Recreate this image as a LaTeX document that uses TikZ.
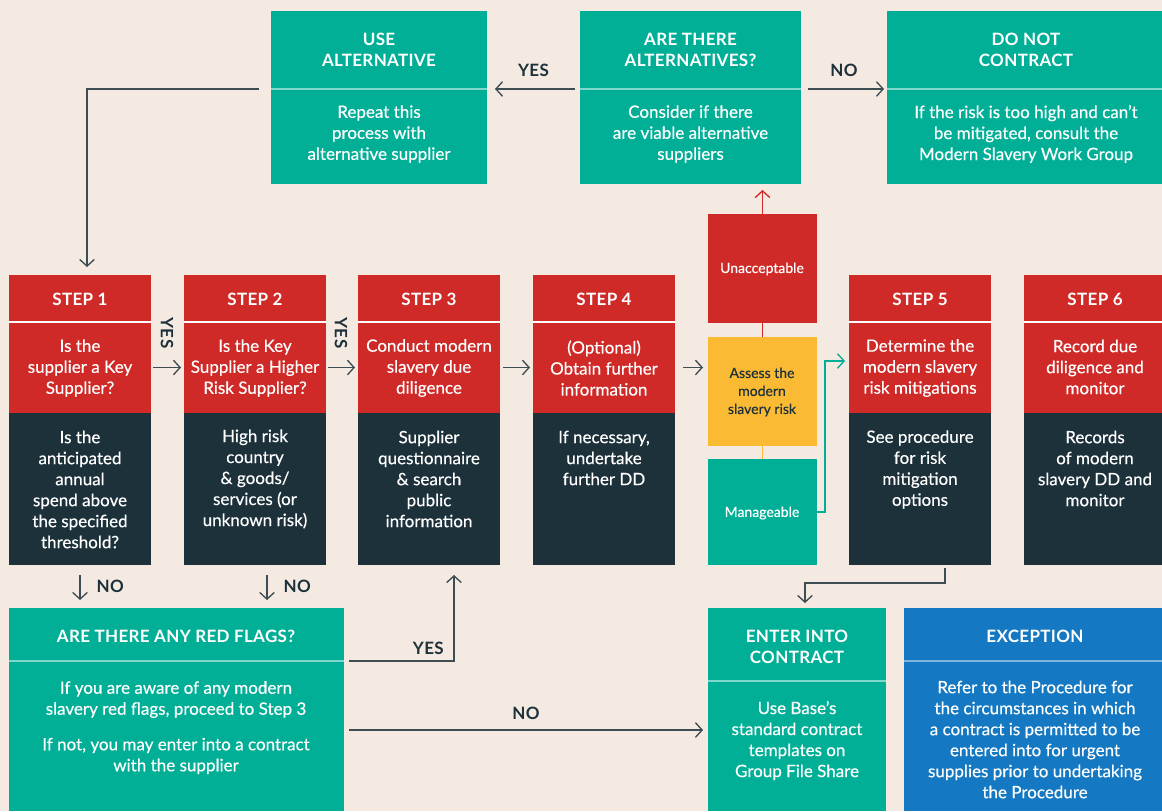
\documentclass[tikz,border=0pt]{standalone}
\usepackage{fontspec}
\setmainfont{Lato}[FakeBold=0.35]
\newfontfamily\hfont{Lato}[LetterSpace=2]
\usetikzlibrary{arrows.meta}
\definecolor{bgc}{HTML}{F4EAE1}
\definecolor{tealc}{HTML}{00AF96}
\definecolor{redc}{HTML}{CF2A27}
\definecolor{darkc}{HTML}{1D313B}
\definecolor{yellc}{HTML}{FBBA33}
\definecolor{bluec}{HTML}{1479C2}
\definecolor{linec}{HTML}{3E4C54}
\newcommand{\mkbox}[6]{\node[fill=#6,minimum width=#4*0.75pt,minimum height=#5*0.75pt,anchor=north west,inner sep=0pt,outer sep=0pt] (#1) at (#2,#3) {};}
\tikzset{
  hd/.style={font=\hfont\bfseries\fontsize{12.75pt}{15.75pt}\selectfont, text=white, align=center, inner sep=0pt},
  bd/.style={font=\fontsize{12.75pt}{15.75pt}\selectfont, text=white, align=center, inner sep=0pt},
  sm/.style={font=\fontsize{10.5pt}{13.5pt}\selectfont, text=white, align=center, inner sep=0pt},
  lbl/.style={font=\hfont\bfseries\fontsize{12.75pt}{15.75pt}\selectfont, text=darkc, inner sep=0pt},
  arr/.style={draw=linec, line width=1pt, -{Straight Barb[length=5pt,width=11pt,line width=1pt]}},
  divT/.style={draw=tealc!50!white, line width=1.2pt},
  divW/.style={draw=white, line width=1.3pt},
  divB/.style={draw=bluec!55!white, line width=1.2pt},
}
\begin{document}
\begin{tikzpicture}[x=0.75pt,y=-0.75pt]
\path[use as bounding box] (0,0) rectangle (1162,811);
\clip (0,0) rectangle (1162,811);
\fill[bgc] (0,0) rectangle (1162,811);

% ---------- top row ----------
\mkbox{uaH}{271}{11}{216}{78}{tealc}
\mkbox{uaB}{271}{89}{216}{95}{tealc}
\mkbox{acH}{580}{11}{221}{78}{tealc}
\mkbox{acB}{580}{89}{221}{95}{tealc}
\mkbox{dnH}{887}{11}{280}{78}{tealc}
\mkbox{dnB}{887}{89}{280}{95}{tealc}
\draw[divT] (uaH.south west) -- (uaH.south east);
\draw[divT] (acH.south west) -- (acH.south east);
\draw[divT] (dnH.south west) -- (dnH.south east);
\node[hd] (uaT) at (379,49.5) {USE\\ALTERNATIVE};
\node[bd] (uaX) at (379,134) {Repeat this\\process with\\alternative supplier};
\node[hd] (acT) at (690.5,49.5) {ARE THERE\\ALTERNATIVES?};
\node[bd] (acX) at (690.5,134) {Consider if there\\are viable alternative\\suppliers};
\node[hd] (dnT) at (1026,49.5) {DO NOT\\CONTRACT};
\node[bd] (dnX) at (1026,134) {If the risk is too high and can’t\\be mitigated, consult the\\Modern Slavery Work Group};

% ---------- steps ----------
\foreach \n/\x in {1/9,2/184,3/358,4/533,5/849,6/1024}{
  \mkbox{s\n h}{\x}{275}{142}{47}{redc}
  \mkbox{s\n m}{\x}{322}{142}{91}{redc}
  \mkbox{s\n d}{\x}{413}{142}{152}{darkc}
  \draw[divW] (s\n h.south west) -- (s\n h.south east);
}
\node[hd] (s1t) at (80,299) {STEP 1};
\node[bd] (s1q) at (80,368) {Is the\\supplier a Key\\Supplier?};
\node[bd] (s1x) at (80,489.5) {Is the\\anticipated\\annual\\spend above\\the specified\\threshold?};
\node[hd] (s2t) at (255,299) {STEP 2};
\node[bd] (s2q) at (255,368) {Is the Key\\Supplier a Higher\\Risk Supplier?};
\node[bd] (s2x) at (255,479) {High risk\\country\\\& goods/\\services (or\\unknown risk)};
\node[hd] (s3t) at (429,299) {STEP 3};
\node[bd] (s3q) at (429,368) {Conduct modern\\slavery due\\diligence};
\node[bd] (s3x) at (429,479) {Supplier\\questionnaire\\\& search\\public\\information};
\node[hd] (s4t) at (604,299) {STEP 4};
\node[bd] (s4q) at (604,368) {(Optional)\\Obtain further\\information};
\node[bd] (s4x) at (604,458) {If necessary,\\undertake\\further DD};
\node[hd] (s5t) at (920,299) {STEP 5};
\node[bd] (s5q) at (920,368) {Determine the\\modern slavery\\risk mitigations};
\node[bd] (s5x) at (920,469.5) {See procedure\\for risk\\mitigation\\options};
\node[hd] (s6t) at (1095,299) {STEP 6};
\node[bd] (s6q) at (1095,367) {Record due\\diligence and\\monitor};
\node[bd] (s6x) at (1095,468.5) {Records\\of modern\\slavery DD and\\monitor};

% ---------- risk assessment column ----------
\mkbox{un}{708}{214}{109}{109}{redc}
\mkbox{as}{708}{337}{109}{109}{yellc}
\mkbox{mg}{708}{459}{109}{106}{tealc}
\node[sm] (unT) at (762,269) {Unacceptable};
\node[sm, text=darkc] (asT) at (762,392) {Assess the\\modern\\slavery risk};
\node[sm] (mgT) at (762,513) {Manageable};

% ---------- bottom row ----------
\mkbox{rfH}{9}{608}{335}{53}{tealc}
\mkbox{rfB}{9}{661}{335}{150}{tealc}
\mkbox{enH}{708}{608}{178}{73}{tealc}
\mkbox{enB}{708}{681}{178}{130}{tealc}
\mkbox{exH}{904}{608}{262}{53}{bluec}
\mkbox{exB}{904}{661}{262}{150}{bluec}
\draw[divT] (rfH.south west) -- (rfH.south east);
\draw[divT] (enH.south west) -- (enH.south east);
\draw[divB] (exH.south west) -- (exH.south east);
\node[hd] (rfT) at (176,636) {ARE THERE ANY RED FLAGS?};
\node[bd] (rfX1) at (176,699.5) {If you are aware of any modern\\slavery red flags, proceed to Step 3};
\node[bd] (rfX2) at (176,756) {If not, you may enter into a contract\\with the supplier};
\node[hd] (enT) at (797,646.5) {ENTER INTO\\CONTRACT};
\node[bd] (enX) at (797,740.5) {Use Base’s\\standard contract\\templates on\\Group File Share};
\node[hd] (exT) at (1035,636) {EXCEPTION};
\node[bd] (exX) at (1035,739.5) {Refer to the Procedure for\\the circumstances in which\\a contract is permitted to be\\entered into for urgent\\supplies prior to undertaking\\the Procedure};

% ---------- connectors ----------
\draw[arr, shorten <=3.75pt, shorten >=6pt] (acH.south west) -- (uaH.south east)
  node[lbl, midway, above=9pt] (yesTop) {YES};
\draw[arr, shorten <=5pt, shorten >=2.25pt] (acH.south east) -- (dnH.south west)
  node[lbl, midway, above=9pt] (noTop) {NO};
\draw[arr, shorten <=9pt, shorten >=6pt] (uaH.south west) -| ([xshift=5.25pt]s1h.north);

\draw[arr, shorten <=1.5pt, shorten >=2.25pt] (s1m.east) -- (s2m.west);
\node[lbl, rotate=-90] (yes12) at (167,333) {YES};
\draw[arr, shorten <=1.5pt, shorten >=2.25pt] (s2m.east) -- (s3m.west);
\node[lbl, rotate=-90] (yes23) at (341,333) {YES};
\draw[arr, shorten <=2.25pt, shorten >=2.25pt] (s3m.east) -- (s4m.west);
\draw[arr, shorten <=6pt, shorten >=3.75pt] (s4m.east) -- (s4m.east -| as.west);

\draw[draw=redc, line width=1pt] (as.north) -- (un.south);
\draw[arr, draw=redc, shorten >=4.5pt] (un.north) -- (un.north |- acB.south);
\draw[draw=yellc, line width=1pt] (as.south) -- (mg.north);
\draw[arr, draw=tealc, shorten >=3pt] (mg.east) -- ++(8,0) |- ([yshift=4.875pt]s5m.west);

\draw[arr, shorten <=2pt, shorten >=3.75pt] ([xshift=18.75pt]s5d.south) -- ++(0,18) -| ([xshift=6pt]enH.north);

\draw[arr, shorten <=7.5pt, shorten >=6pt] (s1d.south) -- (s1d.south |- rfH.north)
  node[lbl, midway, right=12pt] (no1) {NO};
\draw[arr, shorten <=7.5pt, shorten >=6pt] ([xshift=9pt]s2d.south) -- ([xshift=9pt]s2d.south |- rfH.north)
  node[lbl, midway, right=12pt] (no2) {NO};

\draw[arr, shorten <=3.75pt, shorten >=7.5pt] (rfH.south east) -| ([xshift=18.75pt]s3d.south);
\node[lbl, anchor=south east] (yesB) at (444,655) {YES};

\coordinate (nostart) at ([yshift=4.5pt]rfB.east);
\draw[arr, shorten <=3.75pt, shorten >=3.75pt] (nostart) -- (nostart -| enB.west)
  node[lbl, midway, above=7pt] (noB) {NO};
\end{tikzpicture}
\end{document}
